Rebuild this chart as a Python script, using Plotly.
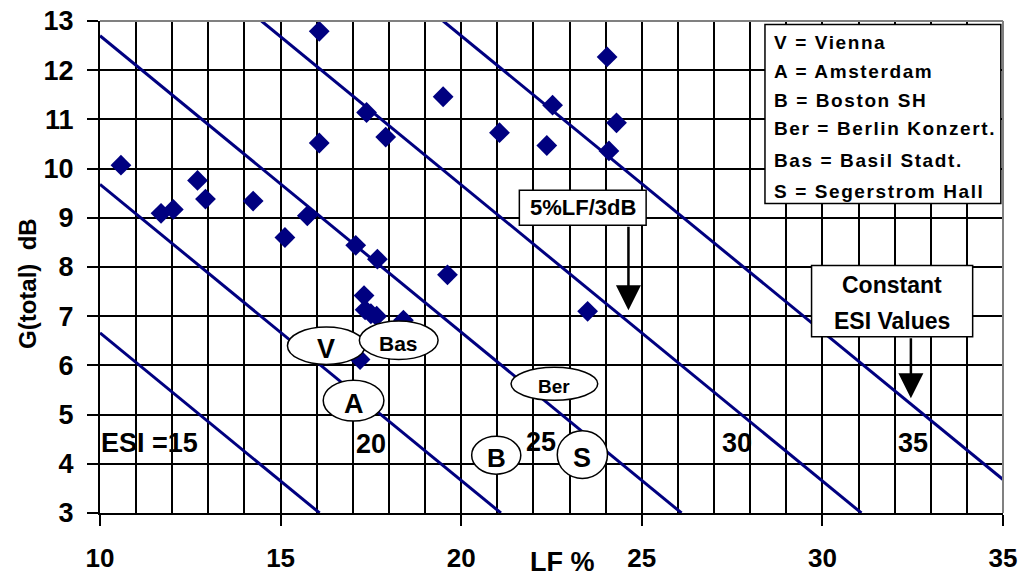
import plotly.graph_objects as go

# ---- data ----
lf = [10.58, 11.69, 12.03, 12.70, 12.92, 14.24, 15.12, 15.74, 16.07, 16.07,
      17.08, 17.38, 17.68, 17.91, 19.50, 19.62, 21.06, 24.04, 22.53, 24.30,
      22.37, 24.09, 23.50, 17.31, 17.34, 17.50, 17.66, 18.40, 17.20]
g_total = [10.07, 9.09, 9.17, 9.76, 9.38, 9.34, 8.60, 9.04, 12.79, 10.52,
           8.44, 11.14, 8.16, 10.64, 11.46, 7.84, 10.73, 12.27, 11.29, 10.93,
           10.47, 10.36, 7.10, 7.42, 7.13, 7.05, 7.00, 6.92, 6.12]

# constant ESI lines: start and end points
esi_names = ["15", "20", "25", "30", "35"]
esi_x0 = [10.0, 10.0, 10.0, 14.47, 19.5]
esi_y0 = [6.66, 9.68, 12.70, 13.0, 13.0]
esi_x1 = [16.08, 21.1, 26.1, 31.08, 35.0]
esi_y1 = [3.0, 3.0, 3.0, 3.0, 3.68]

# ESI value labels
esi_label_text = ["ESI =15", "20", "25", "30", "35"]
esi_label_x = [11.36, 17.5, 22.22, 27.63, 32.51]
esi_label_y = [4.42, 4.40, 4.45, 4.42, 4.42]

# hall labels (ellipses)
hall_text = ["V", "Bas", "A", "B", "Ber", "S"]
hall_x0 = [15.19, 17.18, 16.18, 20.29, 21.38, 22.66]
hall_x1 = [17.34, 19.36, 17.86, 21.65, 23.78, 24.05]
hall_y0 = [6.02, 6.12, 4.87, 3.79, 5.29, 3.70]
hall_y1 = [6.78, 6.90, 5.70, 4.56, 5.96, 4.67]
hall_font = [27, 21, 27, 26, 19, 27]

legend_lines = ["V = Vienna", "A = Amsterdam", "B = Boston SH",
                "Ber = Berlin Konzert.", "Bas = Basil Stadt.", "S = Segerstrom Hall"]

NAVY = "#000080"
FONT = "Arial, Liberation Sans, sans-serif"

fig = go.Figure()

for i in range(len(esi_names)):
    fig.add_trace(go.Scatter(
        x=[esi_x0[i], esi_x1[i]], y=[esi_y0[i], esi_y1[i]],
        mode="lines", line=dict(color=NAVY, width=3),
        showlegend=False, hoverinfo="skip"))

fig.add_trace(go.Scatter(
    x=lf, y=g_total, mode="markers",
    marker=dict(symbol="diamond", size=16, color=NAVY, line=dict(width=0)),
    showlegend=False))

shapes = []
annotations = []

# ellipses
for i, t in enumerate(hall_text):
    shapes.append(dict(type="circle", xref="x", yref="y",
                       x0=hall_x0[i], x1=hall_x1[i], y0=hall_y0[i], y1=hall_y1[i],
                       fillcolor="white", line=dict(color="black", width=1.5),
                       layer="above"))
    annotations.append(dict(x=(hall_x0[i] + hall_x1[i]) / 2,
                            y=(hall_y0[i] + hall_y1[i]) / 2,
                            text="<b>%s</b>" % t, showarrow=False, yshift=-3,
                            font=dict(family=FONT, size=hall_font[i], color="black")))

# ESI labels
for i, t in enumerate(esi_label_text):
    annotations.append(dict(x=esi_label_x[i], y=esi_label_y[i], text="<b>%s</b>" % t,
                            showarrow=False,
                            font=dict(family=FONT, size=27, color="black")))

# legend box
shapes.append(dict(type="rect", xref="x", yref="y", x0=28.41, x1=34.94, y0=9.29, y1=12.93,
                   fillcolor="white", line=dict(color="black", width=1.5), layer="above"))
legend_y_px = [41.7, 70.7, 100.0, 128.5, 160.0, 190.7]
for i, t in enumerate(legend_lines):
    yv = 3 + (512.7 - legend_y_px[i]) / 49.2
    annotations.append(dict(x=28.6, y=yv, xanchor="left", yanchor="middle",
                            text="<b><span style='letter-spacing:1.6px'>%s</span></b>" % t,
                            showarrow=False,
                            font=dict(family=FONT, size=19, color="black")))

# 5%LF/3dB box + arrow
shapes.append(dict(type="rect", xref="x", yref="y", x0=21.61, x1=25.12, y0=8.85, y1=9.56,
                   fillcolor="white", line=dict(color="black", width=1.5), layer="above"))
annotations.append(dict(x=23.365, y=9.205, text="<b>5%LF/3dB</b>", showarrow=False,
                        font=dict(family=FONT, size=22, color="black")))
annotations.append(dict(x=24.63, y=7.12, ax=24.63, ay=8.85, axref="x", ayref="y",
                        text="", showarrow=True, arrowhead=2, arrowsize=2,
                        arrowwidth=2.5, arrowcolor="black", standoff=0, startstandoff=0))

# Constant ESI Values box + arrow
shapes.append(dict(type="rect", xref="x", yref="y", x0=29.7, x1=34.16, y0=6.58, y1=8.03,
                   fillcolor="white", line=dict(color="black", width=1.5), layer="above"))
annotations.append(dict(x=31.93, y=7.63, text="<b>Constant</b>", showarrow=False,
                        font=dict(family=FONT, size=23, color="black")))
annotations.append(dict(x=31.93, y=6.90, text="<b>ESI Values</b>", showarrow=False,
                        font=dict(family=FONT, size=23, color="black")))
annotations.append(dict(x=32.45, y=5.33, ax=32.45, ay=6.58, axref="x", ayref="y",
                        text="", showarrow=True, arrowhead=2, arrowsize=2,
                        arrowwidth=2.5, arrowcolor="black", standoff=0, startstandoff=0))

# frame (grey top/right)
shapes.append(dict(type="line", xref="paper", yref="paper", x0=0, x1=1, y0=1, y1=1,
                   line=dict(color="#808080", width=2), layer="above"))
shapes.append(dict(type="line", xref="paper", yref="paper", x0=1, x1=1, y0=0, y1=1,
                   line=dict(color="#808080", width=2), layer="above"))

# axis titles
annotations.append(dict(xref="paper", yref="paper", x=(562 - 100) / 903, y=-0.1,
                        xanchor="center", yanchor="middle",
                        text="<b>LF %</b>", showarrow=False,
                        font=dict(family=FONT, size=27, color="black")))
annotations.append(dict(xref="paper", yref="paper", x=(27 - 100) / 903, y=(513 - 284) / 492,
                        xanchor="center", yanchor="middle",
                        textangle=-90, text="<b>G(total)  dB</b>", showarrow=False,
                        font=dict(family=FONT, size=24, color="black")))

fig.update_layout(
    width=1035, height=578,
    margin=dict(l=100, r=32, t=21, b=65, autoexpand=False),
    paper_bgcolor="white", plot_bgcolor="white",
    showlegend=False,
    shapes=shapes, annotations=annotations,
    xaxis=dict(range=[10, 35], tickmode="linear", tick0=10, dtick=5,
               showgrid=True, gridcolor="#000000", gridwidth=2,
               ticks="outside", ticklen=11, tickwidth=2, tickcolor="black",
               tickfont=dict(family=FONT, size=26, color="black", weight="bold"),
               ticklabelstandoff=10,
               minor=dict(tick0=10, dtick=1, showgrid=True, gridcolor="#000000",
                          gridwidth=2, ticks=""),
               showline=True, linecolor="black", linewidth=2,
               zeroline=False, automargin=False, fixedrange=True),
    yaxis=dict(range=[3, 13], tickmode="linear", tick0=3, dtick=1,
               showgrid=True, gridcolor="#000000", gridwidth=2,
               ticks="outside", ticklen=11, tickwidth=2, tickcolor="black",
               tickfont=dict(family=FONT, size=27, color="black", weight="bold"),
               ticklabelstandoff=8,
               showline=True, linecolor="black", linewidth=2,
               zeroline=False, automargin=False, fixedrange=True),
)

fig.write_html("out.html", config={"displayModeBar": False},
               post_script="document.body.style.margin='0';document.body.style.padding='0';")
